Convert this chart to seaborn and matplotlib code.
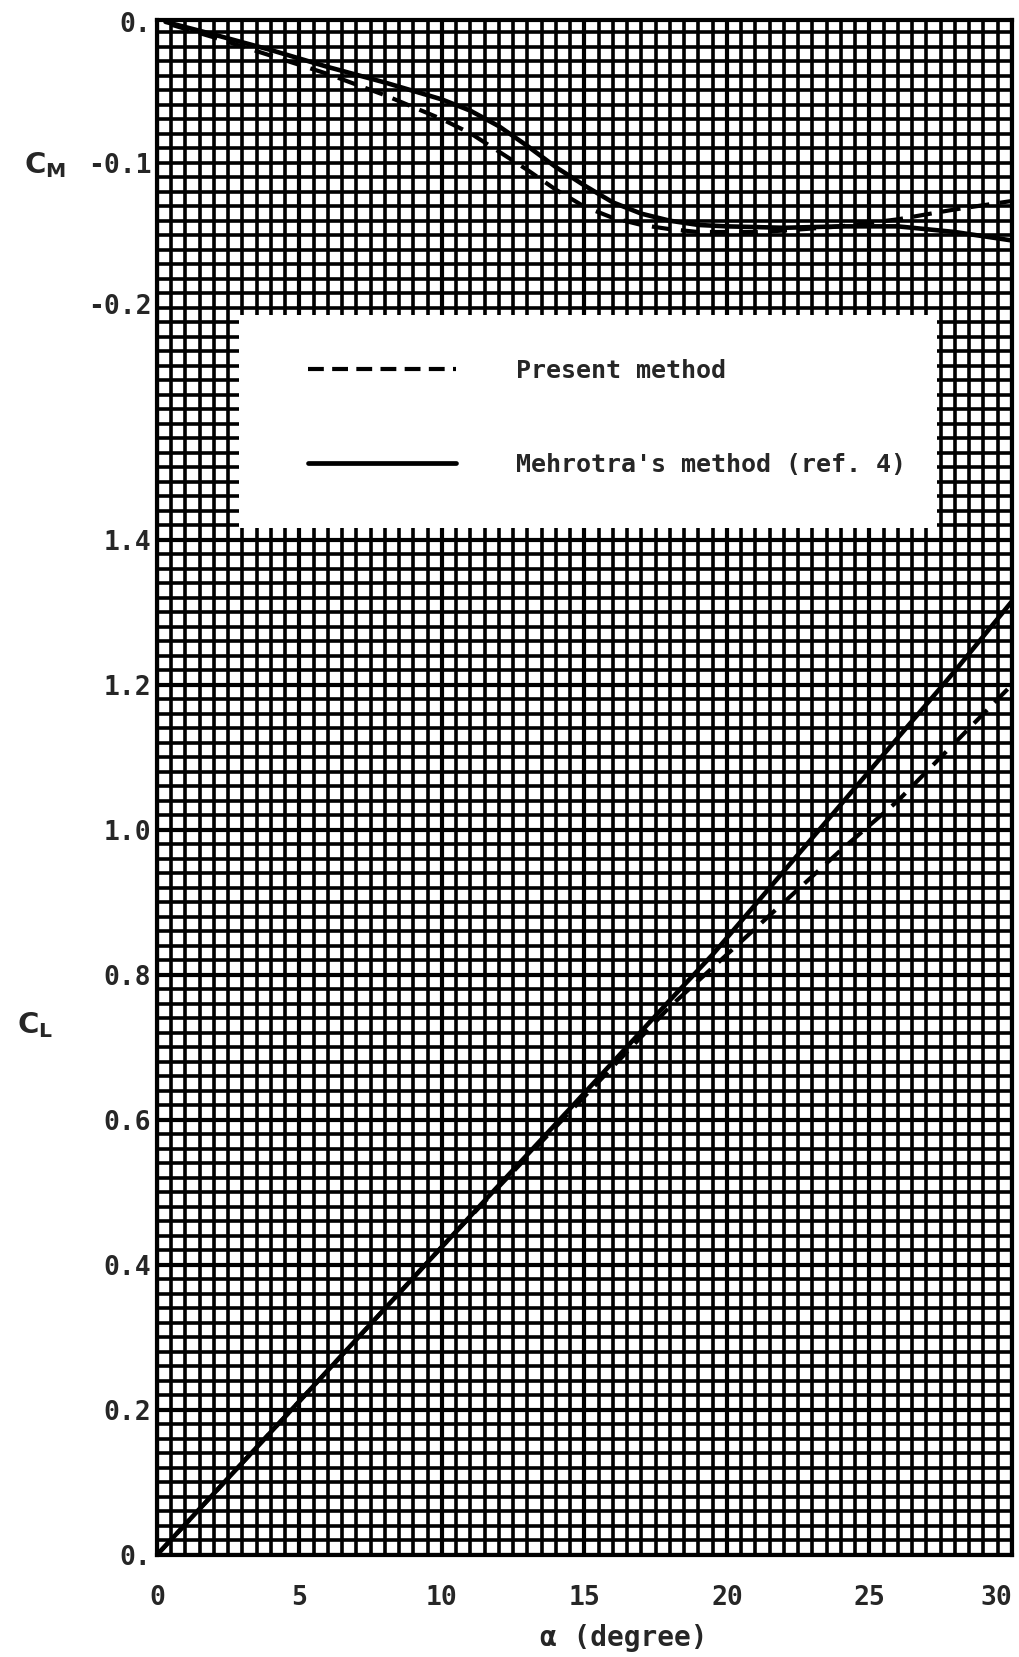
import numpy as np
import pandas as pd
import matplotlib
matplotlib.use("Agg")
import matplotlib.pyplot as plt
import seaborn as sns
from matplotlib.lines import Line2D
from matplotlib.patches import Rectangle
from matplotlib.ticker import MultipleLocator

# ---------------- data ----------------
alpha_cl_mehrotra = [0, 5, 10, 15, 18, 19.5, 20.5, 22, 24, 26, 28, 30]
cl_mehrotra = [0, 0.212, 0.425, 0.637, 0.765, 0.828, 0.874, 0.943, 1.035, 1.127, 1.219, 1.315]

alpha_cl_present = [0, 5, 10, 15, 18, 20.5, 22, 24, 26, 28, 30]
cl_present = [0, 0.212, 0.425, 0.632, 0.756, 0.846, 0.90, 0.972, 1.04, 1.12, 1.20]

alpha_cm_mehrotra = [0.3, 2, 4, 6, 8, 10, 11, 12, 13, 14, 15, 16, 17, 18, 19, 20, 22, 24, 26, 28, 30]
cm_mehrotra = [0, -0.009, -0.020, -0.032, -0.043, -0.055, -0.063, -0.074, -0.088, -0.103,
               -0.116, -0.128, -0.136, -0.141, -0.144, -0.145, -0.146, -0.145, -0.145, -0.149, -0.155]

alpha_cm_present = [0.5, 2, 4, 6, 8, 10, 11, 12, 13, 14, 15, 16, 17, 18, 19, 20, 21, 22, 24, 26, 28, 30]
cm_present = [-0.002, -0.011, -0.024, -0.037, -0.052, -0.069, -0.079, -0.092, -0.105, -0.119,
              -0.131, -0.139, -0.144, -0.147, -0.149, -0.149, -0.149, -0.148, -0.145, -0.140, -0.133, -0.127]

x_ticks = [0, 5, 10, 15, 20, 25, 30]
x_tick_labels = ["0", "5", "10", "15", "20", "25", "30"]
cl_ticks = [0, 0.2, 0.4, 0.6, 0.8, 1.0, 1.2, 1.4]
cl_tick_labels = ["0.", "0.2", "0.4", "0.6", "0.8", "1.0", "1.2", "1.4"]
cm_ticks = [0, -0.1, -0.2]
cm_tick_labels = ["0.", "-0.1", "-0.2"]
legend_labels = ["Present method", "Mehrotra's method (ref. 4)"]

# ---------------- style ----------------
sns.set_style("white")
plt.rcParams["font.family"] = ["DejaVu Sans Mono", "DejaVu Sans"]
plt.rcParams["font.weight"] = "bold"
plt.rcParams["mathtext.fontset"] = "dejavusans"

fig = plt.figure(figsize=(10.19, 16.57), dpi=100)
ax = fig.add_axes([0.154, 0.0616, 0.839, 0.9264])
ax.set_xlim(0, 30)
ax.set_ylim(0, 2.117)

# graph paper grid
ax.set_xticks(x_ticks, x_tick_labels)
ax.set_yticks(cl_ticks, cl_tick_labels)
ax.xaxis.set_minor_locator(MultipleLocator(0.5))
ax.yaxis.set_minor_locator(MultipleLocator(0.02))
ax.grid(which="minor", color="black", lw=2.6)
ax.grid(which="major", color="black", lw=3.0)
ax.set_axisbelow(True)
ax.tick_params(which="both", length=0)
ax.tick_params(axis="y", labelsize=19, pad=4)
ax.tick_params(axis="x", labelsize=19, pad=22)
for s in ax.spines.values():
    s.set_color("black")
    s.set_linewidth(3)
# last x label sits flush with the right edge, as on the original sheet
ax.get_xticklabels()[-1].set_ha("right")

df_cl_m = pd.DataFrame({"alpha": alpha_cl_mehrotra, "CL": cl_mehrotra})
df_cl_p = pd.DataFrame({"alpha": alpha_cl_present, "CL": cl_present})
sns.lineplot(data=df_cl_m, x="alpha", y="CL", ax=ax, color="black", lw=3.3,
             estimator=None, sort=False, zorder=4)
sns.lineplot(data=df_cl_p, x="alpha", y="CL", ax=ax, color="black", lw=3.0,
             estimator=None, sort=False, zorder=4, linestyle=(0, (4.5, 2.5)))
ax.set_ylabel("")
ax.set_xlabel("\u03b1 (degree)", fontsize=20, fontweight="bold")
ax.xaxis.set_label_coords(0.546, -0.054)
ax.xaxis.label.set_va("center")

# moment coefficient axes sharing the same frame
ax2 = ax.twinx()
ax2.set_ylim(-1.087, 0.0014)
df_cm_m = pd.DataFrame({"alpha": alpha_cm_mehrotra, "CM": cm_mehrotra})
df_cm_p = pd.DataFrame({"alpha": alpha_cm_present, "CM": cm_present})
sns.lineplot(data=df_cm_m, x="alpha", y="CM", ax=ax2, color="black", lw=3.3,
             estimator=None, sort=False, zorder=4)
sns.lineplot(data=df_cm_p, x="alpha", y="CM", ax=ax2, color="black", lw=3.0,
             estimator=None, sort=False, zorder=4, linestyle=(0, (4.5, 2.5)))
ax2.set_yticks(cm_ticks, cm_tick_labels)
ax2.yaxis.tick_left()
ax2.tick_params(which="both", length=0, labelsize=19, pad=4)
ax2.set_ylabel("")
ax2.grid(False)
for s in ax2.spines.values():
    s.set_visible(False)

# legend box
ax2.add_patch(Rectangle((0.096, 0.669), 0.816, 0.139, transform=ax2.transAxes,
                        facecolor="white", edgecolor="none", zorder=5))
handles = [Line2D([], [], color="black", lw=3.0, linestyle=(0, (3.8, 2.0))),
           Line2D([], [], color="black", lw=3.4)]
leg = ax2.legend(handles, legend_labels, loc="upper left", bbox_to_anchor=(0.177, 0.779),
                 frameon=False, handlelength=5.9, handletextpad=2.4, labelspacing=2.8,
                 fontsize=18, borderpad=0, borderaxespad=0)
leg.set_zorder(6)
for t in leg.get_texts():
    t.set_fontweight("bold")

# axis titles
fig.text(45 / 1019, 1 - 165 / 1657, r"$\mathbf{C_M}$", fontsize=21, ha="center", va="center")
fig.text(35 / 1019, 1 - 1025 / 1657, r"$\mathbf{C_L}$", fontsize=21, ha="center", va="center")

fig.savefig("out.png", dpi=100, facecolor="white")
